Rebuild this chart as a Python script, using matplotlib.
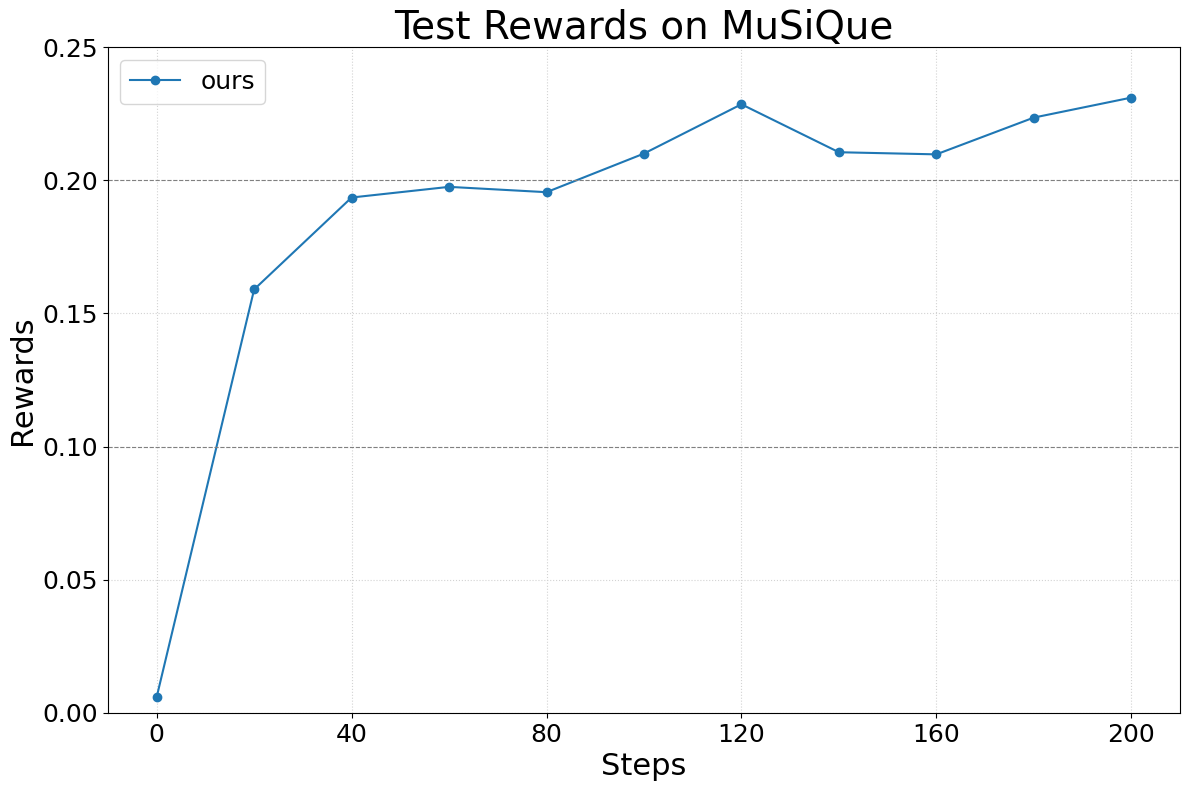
import matplotlib
matplotlib.use("Agg")
import matplotlib.pyplot as plt

steps = [0, 20, 40, 60, 80, 100, 120, 140, 160, 180, 200]
rewards = [0.006, 0.159, 0.1935, 0.1975, 0.1955, 0.210, 0.2285, 0.2105, 0.2097, 0.2235, 0.231]
ref_lines = [0.1, 0.2]
xticks = [0, 40, 80, 120, 160, 200]

fig, ax = plt.subplots(figsize=(11.89, 7.9), dpi=100)
ax.plot(steps, rewards, marker='o', color='#1f77b4', label='ours')
for y in ref_lines:
    ax.axhline(y, color='gray', linestyle='--', linewidth=0.8)
ax.grid(True, linestyle=':', color='lightgray', linewidth=0.8)
ax.set_ylim(0, 0.25)
ax.set_xticks(xticks)
ax.set_title('Test Rewards on MuSiQue', fontsize=28)
ax.set_xlabel('Steps', fontsize=22)
ax.set_ylabel('Rewards', fontsize=22)
ax.tick_params(labelsize=18)
ax.legend(fontsize=18, loc='upper left')
fig.subplots_adjust(left=0.0908, right=0.9924, top=0.9405, bottom=0.0975)
fig.savefig('out.png', dpi=100)
